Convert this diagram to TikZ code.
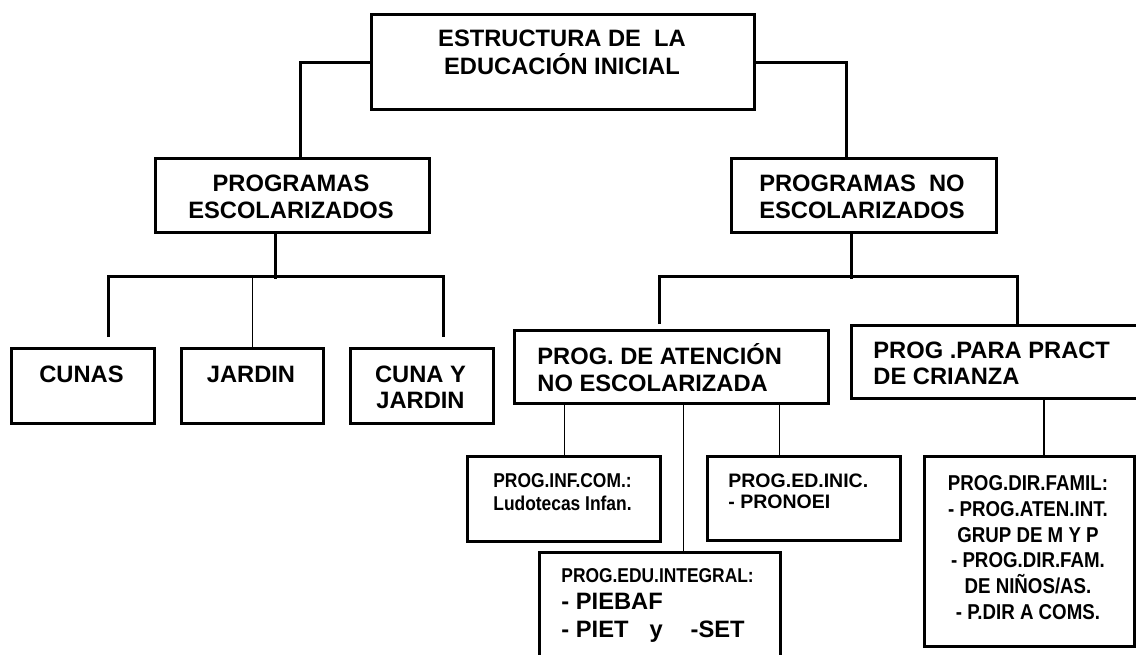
\documentclass[tikz,border=0pt]{standalone}
\usepackage{fontspec}
\setmainfont{Liberation Sans}
\newfontfamily\narrowfont{Liberation Sans}[FakeStretch=0.87]
\usetikzlibrary{positioning, calc}
\tikzset{
	box/.style={draw, line width=1.7pt, anchor=north west, inner sep=0pt},
	boxsize/.style 2 args={minimum width=#1*0.5pt, minimum height=#2*0.5pt},
	conn/.style={line width=1.5pt},
	thinconn/.style={line width=0.65pt},
	midconn/.style={line width=1pt},
	heading/.style={inner sep=0pt, anchor=north, align=center, font=\bfseries\fontsize{11.85}{13.5}\selectfont},
	headleft/.style={heading, anchor=north west, align=left},
	narrowtext/.style={inner sep=0pt, anchor=north, align=center, font=\narrowfont\bfseries\fontsize{10}{11.5}\selectfont},
}

\begin{document}
\begin{tikzpicture}[x=0.5pt, y=-0.5pt]
	\useasboundingbox (0,0) rectangle (1136,654);
	\clip (0,0) rectangle (1136,654);

% Boxes
	\node[box, boxsize={383}{95}] (top) at (370,13) {};
	\node[box, boxsize={274}{74}] (esc) at (154,157) {};
	\node[box, boxsize={265}{74}] (noesc) at (730,157) {};
	\node[box, boxsize={143}{75}] (cunas) at (10,347) {};
	\node[box, boxsize={142}{75}] (jardin) at (180,347) {};
	\node[box, boxsize={143}{75}] (cunayj) at (349,347) {};
	\node[box, boxsize={314}{73}] (atencion) at (513,329) {};
	\node[box, boxsize={300}{73}] (para) at (850,324) {};
	\node[box, boxsize={193}{85}] (infcom) at (466,455) {};
	\node[box, boxsize={193}{84}] (edinic) at (706,455) {};
	\node[box, boxsize={241}{130}] (edu) at (538,551) {};
	\node[box, boxsize={210}{190}] (famil) at (923,455) {};

% Texts
	\node[heading, font=\bfseries\fontsize{11.85}{14}\selectfont] (topt) at (562,30) {ESTRUCTURA DE~ LA\\EDUCACIÓN INICIAL};
	\node[heading] (esct) at (291,175) {PROGRAMAS\\ESCOLARIZADOS};
	\node[heading] (noesct) at (862,175) {PROGRAMAS~ NO\\ESCOLARIZADOS};
	\node[heading] (cunast) at (81.5,366) {CUNAS};
	\node[heading] (jardint) at (251,366) {JARDIN};
	\node[heading, font=\bfseries\fontsize{11.85}{13}\selectfont] (cunayjt) at (420.5,366) {CUNA Y\\JARDIN};
	\node[headleft] (atenciont) at (537,343) {PROG. DE ATENCIÓN\\NO ESCOLARIZADA};
	\node[headleft, font=\bfseries\fontsize{11.85}{13}\selectfont] (parat) at (873,342) {PROG .PARA PRACT\\DE CRIANZA};
	\node[narrowtext] (infcomt) at (562.5,473) {PROG.INF.COM.:\\Ludotecas Infan.};
	\node[headleft, font=\bfseries\fontsize{9.75}{10.5}\selectfont] (edinict) at (728,473) {PROG.ED.INIC.\\- PRONOEI};
	\node[headleft, font=\bfseries\fontsize{11.85}{13.75}\selectfont] (edut) at (561,568) {{\narrowfont\bfseries\fontsize{10}{11.5}\selectfont PROG.EDU.INTEGRAL:}\\- PIEBAF\\- PIET\hspace{10.5pt}y\hspace{14pt}-SET};
	\node[narrowtext, font=\narrowfont\bfseries\fontsize{10.75}{12.9}\selectfont] (familt) at (1028,475) {PROG.DIR.FAMIL:\\- PROG.ATEN.INT.\\GRUP DE M Y P\\- PROG.DIR.FAM.\\DE NIÑOS/AS.\\- P.DIR A COMS.};

% First level
	\draw[conn] (top.west) -| ($(esc.north)+(8,0)$);
	\draw[conn] (top.east) -| ($(noesc.north)+(-17.5,0)$);

% Escolarizados
	\draw[conn] ($(esc.south)+(-17,0)$) -- ++(0,45);
	\draw[conn] ($(cunas.north)+(25.5,-10)$) |- ($(cunayj.north)+(21.5,-71)$) -- ($(cunayj.north)+(21.5,-10)$);
	\draw[thinconn] (jardin.north) -- ++(0,-71);

% No escolarizados
	\draw[conn] ($(noesc.south)+(-12.5,0)$) -- ++(0,45);
	\draw[conn] ($(atencion.north)+(-12,-5)$) |- ($(para.north west)+(167,-48)$) -- ($(para.north west)+(167,0)$);
	\draw[thinconn] (infcom.north) -- ++(0,-53);
	\draw[thinconn] ($(edu.north)+(23.5,0)$) -- ++(0,-149);
	\draw[thinconn] ($(edinic.north)+(-24.5,0)$) -- ++(0,-53);
	\draw[midconn] ($(famil.north)+(14,0)$) -- ++(0,-58);
\end{tikzpicture}
\end{document}
